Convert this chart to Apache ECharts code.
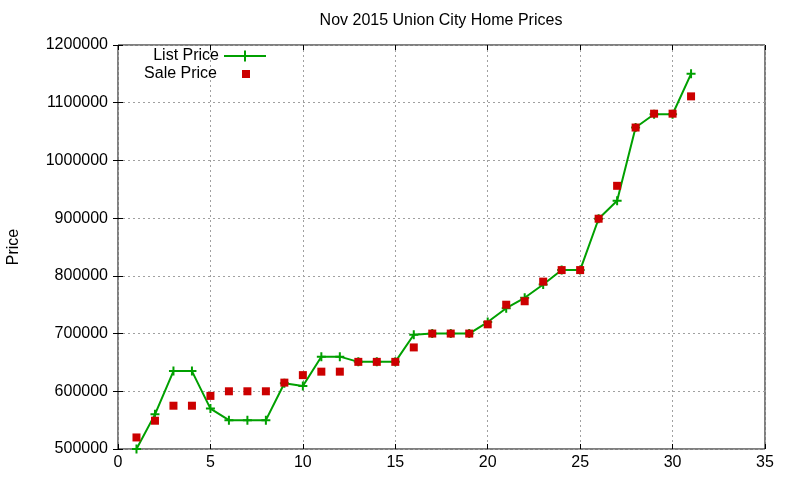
<!DOCTYPE html>
<html>
<head>
<meta charset="utf-8">
<script src="https://cdn.jsdelivr.net/npm/echarts@6/dist/echarts.min.js"></script>
<style>
html,body{margin:0;padding:0;background:#fff;}
#chart{width:800px;height:480px;}
</style>
</head>
<body>
<div id="chart"></div>
<script>
const days = [1,2,3,4,5,6,7,8,9,10,11,12,13,14,15,16,17,18,19,20,21,22,23,24,25,26,27,28,29,30,31];
const listPrices = [500000,560000,635000,635000,570000,550000,550000,550000,614000,609000,660000,660000,651000,651000,651000,698000,700000,700000,700000,720000,744000,762000,785000,810000,810000,899000,930000,1057000,1080000,1080000,1150000];
const salePrices = [520000,549000,575000,575000,592000,600000,600000,600000,615000,628000,634000,634000,651000,651000,651000,676000,700000,700000,700000,716000,750000,756000,790000,810000,810000,899000,956000,1057000,1081000,1081000,1111000];
const titleText = 'Nov 2015 Union City Home Prices';
const yName = 'Price';

const FONT = 'Liberation Sans, Arial, sans-serif';
const listData = days.map((d,i)=>[d, listPrices[i]]);
const saleData = days.map((d,i)=>[d, salePrices[i]]);
const plusPath = 'path://M5,0L5,10M0,5L10,5';

const chart = echarts.init(document.getElementById('chart'), null, {renderer:'canvas'});
const gridLine = {show:true, lineStyle:{color:'#a0a0a0', type:[2,3], width:1}};
const baseX = {type:'value', min:0, max:35, interval:5};
const baseY = {type:'value', min:500000, max:1200000, interval:100000};
chart.setOption({
  animation:false,
  backgroundColor:'#fff',
  title:{text:titleText, left:441, top:13, textAlign:'center', padding:0,
    textStyle:{fontFamily:FONT, fontSize:16, fontWeight:'normal', color:'#000'}},
  grid:{left:118, right:35, top:45, bottom:31, containLabel:false, outerBoundsMode:'none',
    show:true, borderColor:'#000', borderWidth:1, backgroundColor:'transparent'},
  legend:[
    {data:['List Price'], right:533, top:48, align:'right', itemWidth:42, itemHeight:14, padding:0,
      textStyle:{fontFamily:FONT, fontSize:16, color:'#000'}},
    {data:['Sale Price'], right:550, top:66, align:'right', itemWidth:8, itemHeight:8, padding:0,
      textStyle:{fontFamily:FONT, fontSize:16, color:'#000', padding:[0,20,0,0]}}
  ],
  xAxis:[
    Object.assign({}, baseX, {position:'bottom',
      axisLine:{show:false}, axisTick:{show:true, inside:true, length:5, lineStyle:{color:'#000'}},
      axisLabel:{fontFamily:FONT, fontSize:16, color:'#000', margin:6},
      splitLine:gridLine}),
    Object.assign({}, baseX, {position:'top',
      axisLine:{show:false}, axisTick:{show:true, inside:true, length:5, lineStyle:{color:'#000'}},
      axisLabel:{show:false}, splitLine:{show:false}})
  ],
  yAxis:[
    Object.assign({}, baseY, {position:'left',
      name:yName, nameLocation:'middle', nameGap:96, nameRotate:90,
      nameTextStyle:{fontFamily:FONT, fontSize:16, color:'#000'},
      axisLine:{show:false}, axisTick:{show:true, inside:true, length:5, lineStyle:{color:'#000'}},
      axisLabel:{fontFamily:FONT, fontSize:16, color:'#000', margin:10, formatter:(v)=>String(v)},
      splitLine:gridLine}),
    Object.assign({}, baseY, {position:'right',
      axisLine:{show:false}, axisTick:{show:true, inside:true, length:5, lineStyle:{color:'#000'}},
      axisLabel:{show:false}, splitLine:{show:false}})
  ],
  series:[
    {name:'List Price', type:'line', data:listData, xAxisIndex:0, yAxisIndex:0,
      symbol:plusPath, symbolSize:9, showSymbol:true, showAllSymbol:true,
      lineStyle:{color:'#00a000', width:2},
      itemStyle:{color:'#00a000', borderColor:'#00a000', borderWidth:2},
      z:2},
    {name:'Sale Price', type:'scatter', data:saleData, xAxisIndex:0, yAxisIndex:0,
      symbol:'rect', symbolSize:8,
      itemStyle:{color:'#cc0000', opacity:1}, z:3}
  ]
});
</script>
</body>
</html>
